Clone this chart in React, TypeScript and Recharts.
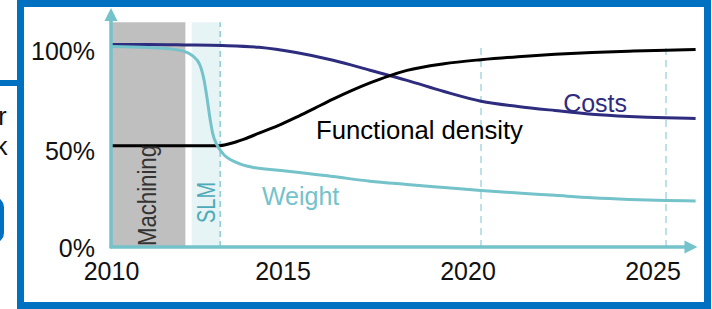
import {
  ComposedChart, Line, XAxis, YAxis, ReferenceArea, ReferenceLine, ReferenceDot,
} from 'recharts';

const FONT = '"Liberation Sans", Arial, sans-serif';
const TEAL = '#74C2CA';
const NAVY = '#2E2C7E';
const FRAME = '#0070C0';

// Costs (navy)
const costYears = [2010, 2011, 2012, 2013, 2014, 2015, 2016, 2017, 2018, 2019, 2020, 2021, 2022, 2023, 2024, 2025, 2025.8];
const costValues = [100, 100, 99.8, 99.5, 98.6, 96, 92.2, 87.3, 82.3, 76.8, 72, 69.4, 67.4, 65.6, 64.5, 63.8, 63.5];

// Functional density (black)
const densityYears = [2010, 2011, 2012, 2012.9, 2013.2, 2013.6, 2014, 2014.5, 2015, 2015.5, 2016, 2016.5, 2017, 2017.5, 2018, 2019, 2020, 2021, 2022, 2023, 2024, 2025, 2025.8];
const densityValues = [50, 50, 50, 50, 51, 53.3, 56.2, 59.8, 64, 68.5, 73, 77.2, 81, 84.4, 87.2, 90.5, 92.5, 94, 95.2, 96.1, 96.7, 97.2, 97.5];

// Weight (teal)
const weightYears = [2010, 2011, 2011.5, 2012, 2012.2, 2012.4, 2012.52, 2012.6, 2012.68, 2012.75, 2012.86, 2013.03, 2013.4, 2013.84, 2014.3, 2014.84, 2016, 2017, 2018, 2019, 2020, 2021, 2022, 2023, 2024, 2025, 2025.8];
const weightValues = [99, 98.5, 98, 96.5, 94.5, 90, 82, 73, 63, 56, 50.5, 46, 41.7, 39.3, 38.3, 37.3, 34.8, 32.5, 30.9, 29.4, 27.9, 26.7, 25.5, 24.3, 23.5, 23, 22.7];

const xTicks = [2010, 2015, 2020, 2025];
const yTicks = [0, 50, 100];
const yTickLabels = ['0%', '50%', '100%'];

// phases
const machiningSpan = [2010, 2012.01];
const slmSpan = [2012.18, 2012.95];
const dashedYears = [2020, 2025];

const toPoints = (xs: number[], ys: number[]) => xs.map((x, i) => ({ x, y: ys[i] }));
const costData = toPoints(costYears, costValues);
const densityData = toPoints(densityYears, densityValues);
const weightData = toPoints(weightYears, weightValues);

const YTick = (props: any) => {
  const { x, y, payload } = props;
  const i = yTicks.indexOf(payload.value);
  const dy = payload.value === 0 ? 9.5 : payload.value === 50 ? 14.3 : 15.5;
  return (
    <text x={x} y={y + dy} textAnchor="end" fontSize={25} fontFamily={FONT} fill="#111">
      {yTickLabels[i]}
    </text>
  );
};

const XTick = (props: any) => {
  const { x, y, payload } = props;
  const dx = payload.value === 2010 ? 0.5 : -13;
  return (
    <text x={x + dx} y={y + 33} textAnchor="middle" fontSize={25} fontFamily={FONT} fill="#111">
      {payload.value}
    </text>
  );
};

const ArrowAxis = (props: any) => {
  const { x1, y1, x2, y2 } = props;
  const dx = x2 - x1;
  const dy = y2 - y1;
  const len = Math.hypot(dx, dy) || 1;
  const ux = dx / len;
  const uy = dy / len;
  const hl = 13;
  const hw = 6.5;
  const bx = x2 - ux * hl;
  const by = y2 - uy * hl;
  const pts = `${x2},${y2} ${bx - uy * hw},${by + ux * hw} ${bx + uy * hw},${by - ux * hw}`;
  return (
    <g>
      <line x1={x1} y1={y1} x2={bx + ux} y2={by + uy} stroke={TEAL} strokeWidth={3.5} strokeLinecap="round" />
      <polygon points={pts} fill={TEAL} />
    </g>
  );
};

const textShape = (label: string, color: string, size = 25, rotate = false, length?: number) => (p: any) => (
  <text
    x={p.cx}
    y={p.cy}
    fontSize={size}
    fontFamily={FONT}
    fill={color}
    transform={rotate ? `rotate(-90 ${p.cx} ${p.cy})` : undefined}
    textLength={length}
    lengthAdjust={length ? 'spacingAndGlyphs' : undefined}
  >
    {label}
  </text>
);

export default function App() {
  return (
    <div style={{ position: 'absolute', left: 0, top: 0, width: 712, height: 309, background: '#fff', overflow: 'hidden', fontFamily: FONT }}>
      <svg width={712} height={309} style={{ position: 'absolute', left: 0, top: 0 }}>
        <rect x={0} y={80} width={20} height={6} fill={FRAME} />
        <text x={6.5} y={125} textAnchor="end" fontSize={25} fontFamily={FONT} fill="#111">r</text>
        <text x={7.5} y={155} textAnchor="end" fontSize={25} fontFamily={FONT} fill="#111">k</text>
        <rect x={-40} y={199} width={42} height={42} rx={8} fill="none" stroke={FRAME} strokeWidth={4} />
        <rect x={20.5} y={3.5} width={687} height={302} fill="#fff" stroke={FRAME} strokeWidth={7} />
      </svg>
      <div style={{ position: 'absolute', left: 0, top: 0 }}>
        <ComposedChart width={712} height={309} margin={{ top: 4, right: 9, bottom: 0, left: 0 }}>
          <XAxis
            dataKey="x"
            type="number"
            domain={[2010, 2026]}
            ticks={xTicks}
            axisLine={false}
            tickLine={false}
            tickSize={0}
            tickMargin={0}
            height={62}
            tick={<XTick />}
            allowDataOverflow
          />
          <YAxis
            type="number"
            domain={[0, 120]}
            ticks={yTicks}
            axisLine={false}
            tickLine={false}
            tickSize={0}
            tickMargin={16}
            width={111}
            tick={<YTick />}
            allowDataOverflow
          />
          <ReferenceArea x1={machiningSpan[0]} x2={machiningSpan[1]} y1={0} y2={111} fill="#BFBFBF" fillOpacity={1} stroke="none" />
          <ReferenceArea x1={slmSpan[0]} x2={slmSpan[1]} y1={0} y2={111} fill="#E7F4F5" fillOpacity={1} stroke="none" />
          <ReferenceLine
            segment={[{ x: slmSpan[1], y: 0 }, { x: slmSpan[1], y: 111 }]}
            stroke="#7CC6CE" strokeWidth={1.3} strokeDasharray="6 4"
          />
          {dashedYears.map(yr => (
            <ReferenceLine
              key={yr}
              segment={[{ x: yr, y: 0 }, { x: yr, y: 98.5 }]}
              stroke="#A6D8DE" strokeWidth={1.5} strokeDasharray="7 5"
            />
          ))}
          <ReferenceDot x={2011.22} y={0.5} r={1} shape={textShape('Machining', '#333', 25, true, 101)} />
          <ReferenceDot x={2012.81} y={11.85} r={1} shape={textShape('SLM', '#4EAAB8', 25, true, 41)} />
          <Line data={costData} dataKey="y" type="monotone" stroke={NAVY} strokeWidth={3} dot={false} isAnimationActive={false} />
          <Line data={densityData} dataKey="y" type="monotone" stroke="#000" strokeWidth={3} dot={false} isAnimationActive={false} />
          <Line data={weightData} dataKey="y" type="monotone" stroke={TEAL} strokeWidth={3} dot={false} isAnimationActive={false} />
          <ReferenceLine segment={[{ x: 2010, y: 0 }, { x: 2010, y: 118 }]} shape={ArrowAxis} />
          <ReferenceLine segment={[{ x: 2010, y: 0 }, { x: 2025.85, y: 0 }]} shape={ArrowAxis} />
          <ReferenceDot x={2022.22} y={66.7} r={1} shape={textShape('Costs', NAVY)} />
          <ReferenceDot x={2015.54} y={53.3} r={1} shape={textShape('Functional density', '#000', 25, false, 207)} />
          <ReferenceDot x={2014.08} y={20.7} r={1} shape={textShape('Weight', TEAL)} />
        </ComposedChart>
      </div>
    </div>
  );
}
